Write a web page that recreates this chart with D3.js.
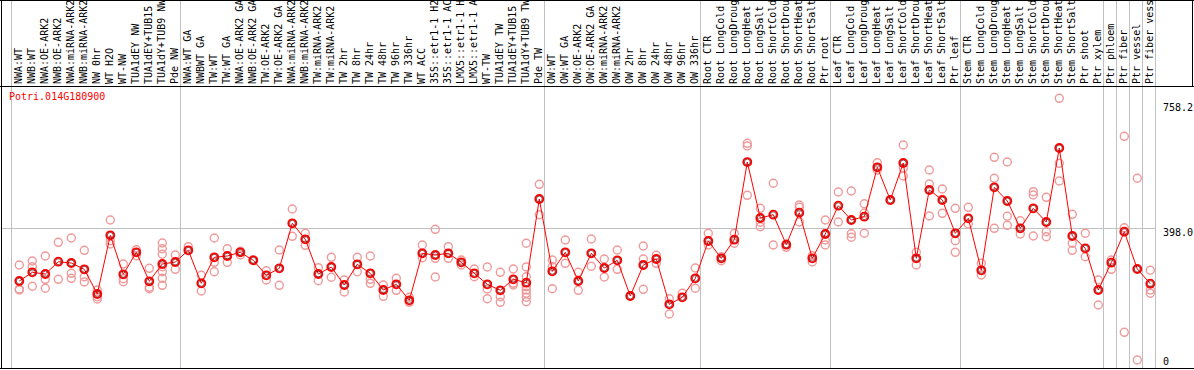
<!DOCTYPE html>
<html>
<head>
<meta charset="utf-8">
<script src="https://cdn.jsdelivr.net/npm/d3@7"></script>
<style>
  body { margin: 0; background: #fff; }
  text { font-family: "DejaVu Sans Mono", "Liberation Mono", monospace; font-size: 10px; }
</style>
</head>
<body>
<div id="chart"></div>
<script>
var title = "Potri.014G180900";

var labels = [
    "NWA:WT", "NWB:WT", "NWA:OE-ARK2", "NWB:OE-ARK2", "NWA:miRNA-ARK2", "NWB:miRNA-ARK2",
    "NW 0hr", "WT H2O", "WT-NW", "TUA1dEY NW", "TUA1dEY+TUB15 NW", "TUA1dY+TUB9 NW", "Pde NW",
    "NWA:WT GA", "NWBWT GA", "TW:WT", "TW:WT GA", "NWA:OE-ARK2 GA", "NWB:OE-ARK2 GA",
    "TW:OE-ARK2", "TW:OE-ARK2 GA", "NWA:miRNA-ARK2", "NWB:miRNA-ARK2", "TW:miRNA-ARK2", "TW:miRNA-ARK2",
    "TW 2hr", "TW 8hr", "TW 24hr", "TW 48hr", "TW 96hr", "TW 336hr", "WT ACC",
    "35S::etr1-1 H2O", "35S::etr1-1 ACC", "LMX5::etr1-1 H2O", "LMX5::etr1-1 ACC",
    "WT-TW", "TUA1dEY TW", "TUA1dEY+TUB15 TW", "TUA1dY+TUB9 TW", "Pde TW",
    "OW:WT", "OW:WT GA", "OW:OE-ARK2", "OW:OE-ARK2 GA", "OW:miRNA-ARK2", "OW:miRNA-ARK2",
    "OW 2hr", "OW 8hr", "OW 24hr", "OW 48hr", "OW 96hr", "OW 336hr",
    "Root CTR", "Root LongCold", "Root LongDrought", "Root LongHeat", "Root LongSalt",
    "Root ShortCold", "Root ShortDrought", "Root ShortHeat", "Root ShortSalt", "Ptr root",
    "Leaf CTR", "Leaf LongCold", "Leaf LongDrought", "Leaf LongHeat", "Leaf LongSalt",
    "Leaf ShortCold", "Leaf ShortDrought", "Leaf ShortHeat", "Leaf ShortSalt", "Ptr leaf",
    "Stem CTR", "Stem LongCold", "Stem LongDrought", "Stem LongHeat", "Stem LongSalt",
    "Stem ShortCold", "Stem ShortDrought", "Stem ShortHeat", "Stem ShortSalt", "Ptr shoot", "Ptr xylem",
    "Ptr phloem", "Ptr fiber", "Ptr vessel", "Ptr fiber vessel"
];

// number of columns in each block between the grey separators
var groupSizes = [13, 28, 12, 10, 10, 11, 1, 1, 1, 1];

var means = [
    245.2, 270.3, 265.4, 300.8, 297.1, 278.9, 207.8, 376.9, 264.5, 327.9, 244.4, 294.2, 300.0,
    333.7, 238.6, 313.5, 317.3, 327.9, 304.9, 261.6, 281.8, 411.5, 365.4, 265.4, 285.6,
    233.7, 293.3, 267.4, 219.3, 235.7, 189.6, 325.0, 320.1, 325.0, 299.1, 267.4, 235.7,
    218.4, 250.1, 240.3, 481.5,
    273.2, 327.9, 245.2, 325.0, 282.7, 304.9, 202.0, 291.3, 308.6, 178.1, 198.3, 253.0,
    360.5, 310.6, 364.2, 588.1, 426.8, 436.3, 349.8, 442.0, 310.6, 380.7,
    462.2, 421.0, 430.5, 572.9, 478.6, 585.3, 310.6, 507.5, 478.6, 382.7,
    425.9, 276.1, 515.2, 475.8, 397.1, 454.7, 415.2, 628.5, 374.9, 339.5, 219.3,
    298.0, 387.3, 279.8, 237.4
];

var reps = [
    [291.3, 222.2, 219.3], [302.9, 286.4, 230.0], [317.3, 250.1, 224.2], [356.7, 250.1],
    [369.1, 267.4, 253.0], [333.7, 257.6, 242.3], [219.3, 200.0, 193.4], [421.0, 361.3, 351.8],
    [294.2, 251.9, 243.2], [335.4, 318.1], [281.8, 227.1, 223.0],
    [354.7, 338.3, 322.2, 286.4, 272.0, 253.0, 232.8], [320.1, 278.9],
    [344.1], [261.6, 216.4], [369.1, 299.1, 272.0], [338.3, 299.1], [330.8, 320.1], [306.6],
    [274.9, 248.1], [334.6, 232.8], [452.7, 374.0], [382.7, 348.1], [283.6, 246.1], [313.5, 255.9],
    [248.1, 213.5], [313.5, 272.0], [317.3, 250.1, 238.6], [233.7, 201.1], [253.0, 218.4],
    [198.3, 183.8], [349.0, 312.4], [394.2, 310.6, 256.8], [344.1, 310.6], [305.7, 291.3],
    [279.8, 257.6], [285.6, 222.2, 194.2], [270.3, 200.0, 183.8], [279.8, 238.6, 233.7],
    [353.9, 285.6, 257.6, 228.8, 219.3, 209.8, 198.3, 185.6], [523.9, 436.3],
    [305.7, 286.4, 223.0], [363.4, 296.2], [270.3, 218.4], [366.2, 287.6], [308.6, 256.8],
    [334.6, 278.9], [202.0], [346.1, 308.6, 221.3], [319.3, 296.2], [194.2, 150.1], [209.8],
    [282.7, 224.2],
    [382.7, 349.0], [315.2, 303.7], [382.7, 353.9], [642.0, 634.2, 492.2], [454.7, 414.4, 401.7],
    [526.8, 349.0], [351.8, 342.3], [464.2, 457.6, 415.2], [318.1, 300.0], [421.0, 363.4, 349.0],
    [501.7, 415.2], [504.6, 381.5, 371.2], [468.0, 441.2, 382.7], [586.1, 565.1], [478.6],
    [637.1, 570.0, 547.8], [327.9, 291.3], [565.1, 524.7, 432.5], [510.3, 440.3],
    [454.7, 361.3, 327.9],
    [457.6, 409.5], [296.2, 262.5], [601.7, 541.2, 397.1], [588.1, 431.7, 405.7], [419.0, 380.7],
    [502.6, 493.0, 374.9], [486.4, 387.3, 372.9], [771.7, 584.4, 533.4], [437.4, 353.9, 333.7],
    [382.7, 315.2], [248.1, 176.1],
    [305.7, 278.9], [662.2, 398.8, 97.4], [541.2, 17.6], [276.1, 219.3, 209.8]
];

var yTicks = [758.2, 398.0, 0];
var refLine = 398.0;

var width = 1194, height = 370,
    headerBottom = 86, plotBottom = 368;

var svg = d3.select("#chart").append("svg")
    .attr("width", width)
    .attr("height", height);

// column scale: left edge of each column band
var x = d3.scaleLinear().domain([0, labels.length]).range([11, 1155]);
var px = function (i) { return x(i) + 8.3; };
var y = d3.scaleLinear().domain([0, 758.2]).range([366.1, 103]);

// group separators
var bounds = [0];
groupSizes.forEach(function (n) { bounds.push(bounds[bounds.length - 1] + n); });

svg.append("g")
    .selectAll("line")
    .data(bounds)
    .enter().append("line")
    .attr("x1", function (d) { return Math.round(x(d)) + 0.5; })
    .attr("x2", function (d) { return Math.round(x(d)) + 0.5; })
    .attr("y1", 0)
    .attr("y2", plotBottom)
    .style("stroke", "#c0c0c0")
    .style("shape-rendering", "crispEdges");

// reference line
svg.append("line")
    .attr("x1", 2).attr("x2", x(labels.length))
    .attr("y1", Math.round(y(refLine)) + 0.5)
    .attr("y2", Math.round(y(refLine)) + 0.5)
    .style("stroke", "#c0c0c0")
    .style("shape-rendering", "crispEdges");

// frame
svg.append("line").attr("x1", 0).attr("x2", width).attr("y1", 0.5).attr("y2", 0.5)
    .style("stroke", "#000").style("shape-rendering", "crispEdges");
svg.append("line").attr("x1", 0).attr("x2", width).attr("y1", headerBottom + 0.5).attr("y2", headerBottom + 0.5)
    .style("stroke", "#000").style("shape-rendering", "crispEdges");
svg.append("line").attr("x1", 0).attr("x2", width).attr("y1", plotBottom + 0.5).attr("y2", plotBottom + 0.5)
    .style("stroke", "#000").style("shape-rendering", "crispEdges");
svg.append("line").attr("x1", 1.5).attr("x2", 1.5).attr("y1", 0).attr("y2", plotBottom)
    .style("stroke", "#000").style("shape-rendering", "crispEdges");
svg.append("line").attr("x1", 1192.5).attr("x2", 1192.5).attr("y1", 0).attr("y2", headerBottom)
    .style("stroke", "#000").style("shape-rendering", "crispEdges");

// column labels
svg.append("g")
    .selectAll("text")
    .data(labels)
    .enter().append("text")
    .attr("transform", function (d, i) {
        return "translate(" + (px(i) + 3) + "," + (headerBottom - 2) + ") rotate(-90)";
    })
    .style("fill", "#000")
    .text(function (d) { return d; });

// title
svg.append("text")
    .attr("x", 9)
    .attr("y", 100)
    .style("fill", "#f00")
    .text(title);

// right axis labels
svg.append("g")
    .selectAll("text")
    .data(yTicks)
    .enter().append("text")
    .attr("x", 1163)
    .attr("y", function (d) { return Math.min(y(d) + 8, 365); })
    .style("fill", "#000")
    .text(function (d) { return d === 0 ? "0" : d.toFixed(1); });

// replicate points
var repData = [];
reps.forEach(function (r, i) {
    r.forEach(function (v) { repData.push({ i: i, v: v }); });
});

svg.append("g")
    .selectAll("circle")
    .data(repData)
    .enter().append("circle")
    .attr("cx", function (d) { return px(d.i); })
    .attr("cy", function (d) { return y(d.v); })
    .attr("r", 4)
    .style("fill", "none")
    .style("stroke", "#ef9a9a")
    .style("stroke-width", 1.4);

// mean line
var line = d3.line()
    .x(function (d, i) { return px(i); })
    .y(function (d) { return y(d); });

svg.append("path")
    .datum(means)
    .attr("d", line)
    .style("fill", "none")
    .style("stroke", "#f00")
    .style("stroke-width", 1);

// mean points
var meanG = svg.append("g")
    .selectAll("g")
    .data(means)
    .enter().append("g")
    .attr("transform", function (d, i) { return "translate(" + px(i) + "," + y(d) + ")"; });

meanG.append("circle")
    .attr("r", 4)
    .style("fill", "none")
    .style("stroke", "#f00")
    .style("stroke-width", 1.8);

meanG.append("circle")
    .attr("r", 2.9)
    .style("fill", "none")
    .style("stroke", "#400")
    .style("stroke-width", 0.6);
</script>
</body>
</html>
